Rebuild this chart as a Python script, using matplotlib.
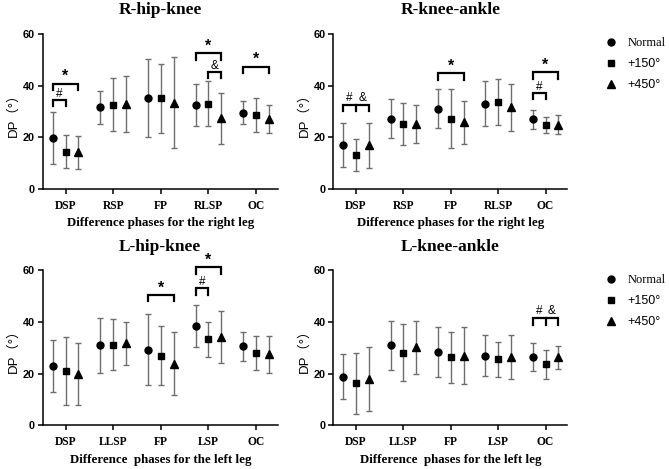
import numpy as np
import matplotlib
matplotlib.use("Agg")
import matplotlib.pyplot as plt
from matplotlib.lines import Line2D

# --- data (mean and SD) ---
groups = ["Normal", "+150°", "+450°"]
right_phases = ["DSP", "RSP", "FP", "RLSP", "OC"]
left_phases = ["DSP", "LLSP", "FP", "LSP", "OC"]

rhk_mean = [[19.7, 31.6, 35.2, 32.6, 29.6],
            [14.5, 32.7, 35.2, 33.0, 28.8],
            [14.2, 33.1, 33.4, 27.4, 27.1]]
rhk_sd = [[10.0, 6.3, 15.1, 8.3, 4.4],
          [6.5, 10.2, 13.4, 8.7, 6.6],
          [6.3, 10.9, 17.6, 9.8, 5.3]]

rka_mean = [[17.1, 27.3, 31.2, 33.1, 27.1],
            [13.2, 25.2, 27.3, 33.6, 24.9],
            [16.9, 25.1, 25.8, 31.7, 24.9]]
rka_sd = [[8.4, 7.4, 7.5, 8.6, 3.7],
          [6.2, 8.3, 11.4, 8.9, 3.2],
          [8.6, 7.4, 8.5, 9.1, 3.7]]

lhk_mean = [[22.9, 30.9, 29.3, 38.5, 30.6],
            [21.0, 31.1, 27.0, 33.2, 28.1],
            [19.9, 31.8, 23.9, 34.2, 27.4]]
lhk_sd = [[10.1, 10.5, 13.7, 8.1, 5.6],
          [13.0, 9.8, 11.3, 6.9, 6.5],
          [11.9, 8.3, 12.2, 10.0, 7.2]]

lka_mean = [[18.9, 31.0, 28.3, 27.0, 26.3],
            [16.2, 28.1, 26.3, 25.6, 23.6],
            [18.0, 30.2, 26.9, 26.6, 26.3]]
lka_sd = [[8.8, 9.5, 9.7, 7.9, 5.4],
          [11.8, 11.1, 9.9, 6.7, 5.6],
          [12.3, 10.3, 11.0, 8.5, 4.5]]

# significance brackets: (phase index, from group, to group, height, labels)
rhk_sig = [(0, 0, 2, 40.9, ["*"]), (0, 0, 1, 34.4, ["#"]),
           (3, 0, 2, 52.6, ["*"]), (3, 1, 2, 45.5, ["&"]),
           (4, 0, 2, 47.4, ["*"])]
rka_sig = [(0, 0, 2, 32.5, ["#", "&"]), (2, 0, 2, 44.8, ["*"]),
           (4, 0, 2, 45.2, ["*"]), (4, 0, 1, 37.3, ["#"])]
lhk_sig = [(2, 0, 2, 50.3, ["*"]), (3, 0, 2, 61.0, ["*"]),
           (3, 0, 1, 52.9, ["#"])]
lka_sig = [(4, 0, 2, 41.3, ["#", "&"])]

offsets = [-0.27, 0.0, 0.27]
markers = ["o", "s", "^"]
msizes = [5.0, 4.6, 5.2]

serif = "Liberation Serif"
sans = "Liberation Sans"


def draw_panel(ax, title, phases, means, sds, sigs, xlabel, title_pad):
    x = np.arange(len(phases))
    for g in range(3):
        ax.errorbar(x + offsets[g], means[g], yerr=sds[g], fmt=markers[g],
                    color="black", ms=msizes[g], ecolor="#6e6e6e",
                    elinewidth=1.0, capsize=2.2, capthick=1.0, clip_on=False,
                    zorder=3)
    for idx, g0, g1, h, labels in sigs:
        x0 = idx + offsets[g0]
        x1 = idx + offsets[g1]
        drop = 2.4
        ax.plot([x0, x0, x1, x1], [h - drop, h, h, h - drop], color="black",
                lw=1.6, clip_on=False, solid_joinstyle="miter")
        if len(labels) == 1:
            lab = labels[0]
            if lab == "*":
                ax.text((x0 + x1) / 2, h + 1.0, lab, ha="center", va="baseline",
                        fontsize=11.5, fontweight="bold", family=sans)
            else:
                ax.text((x0 + x1) / 2, h + 1.2, lab, ha="center", va="baseline",
                        fontsize=8.5, family=sans)
        else:
            xm = idx + offsets[1]
            ax.plot([xm, xm], [h - drop, h], color="black", lw=1.6, clip_on=False)
            ax.text((x0 + xm) / 2, h + 1.6, labels[0], ha="center", va="baseline",
                    fontsize=8.5, family=sans)
            ax.text((xm + x1) / 2, h + 1.6, labels[1], ha="center", va="baseline",
                    fontsize=8.5, family=sans)

    ax.set_xlim(-0.48, 4.46)
    ax.set_ylim(0, 60)
    ax.set_yticks([0, 20, 40, 60])
    ax.set_xticks(x)
    ax.set_xticklabels(phases, fontfamily=serif, fontweight="bold", fontsize=8.3)
    for lab in ax.get_yticklabels():
        lab.set_fontfamily(sans)
        lab.set_fontweight("bold")
        lab.set_fontsize(7.8)
    ax.spines["top"].set_visible(False)
    ax.spines["right"].set_visible(False)
    for s in ["left", "bottom"]:
        ax.spines[s].set_linewidth(1.1)
    ax.tick_params(axis="both", length=3.6, width=1.1, pad=2)
    ax.tick_params(axis="x", pad=4)
    ax.set_xlabel(xlabel, fontfamily=serif, fontweight="bold", fontsize=9.3,
                  labelpad=4)
    ax.set_ylabel("DP（°）", family=[sans, "Noto Sans CJK SC"], fontsize=9.5,
                  labelpad=2)
    ax.set_title(title, fontfamily=serif, fontweight="bold", fontsize=12.5,
                 pad=title_pad)


def add_legend(ax, top):
    handles = [Line2D([], [], marker=m, color="black", linestyle="none", ms=s)
               for m, s in zip(markers, msizes)]
    leg = ax.legend(handles, groups, loc="upper left", frameon=False,
                    bbox_to_anchor=(0.906, top), bbox_transform=fig.transFigure,
                    borderpad=0, borderaxespad=0, handlelength=0.8,
                    handletextpad=0.9, labelspacing=0.72, fontsize=9)
    texts = leg.get_texts()
    texts[0].set_fontfamily(serif)
    texts[1].set_fontfamily(sans)
    texts[2].set_fontfamily(sans)


fig = plt.figure(figsize=(6.69, 4.69), dpi=100)
ax1 = fig.add_axes([0.0638, 0.597, 0.3517, 0.330])
ax2 = fig.add_axes([0.4982, 0.597, 0.3498, 0.330])
ax3 = fig.add_axes([0.0638, 0.0928, 0.3517, 0.3315])
ax4 = fig.add_axes([0.4982, 0.0928, 0.3498, 0.3315])

draw_panel(ax1, "R-hip-knee", right_phases, rhk_mean, rhk_sd, rhk_sig,
           "Difference phases for the right leg", 14.5)
draw_panel(ax2, "R-knee-ankle", right_phases, rka_mean, rka_sd, rka_sig,
           "Difference phases for the right leg", 14.5)
draw_panel(ax3, "L-hip-knee", left_phases, lhk_mean, lhk_sd, lhk_sig,
           "Difference  phases for the left leg", 14)
draw_panel(ax4, "L-knee-ankle", left_phases, lka_mean, lka_sd, lka_sig,
           "Difference  phases for the left leg", 14)

add_legend(ax2, 1 - 37 / 469)
add_legend(ax4, 1 - 274 / 469)

fig.savefig("out.png", dpi=100)
